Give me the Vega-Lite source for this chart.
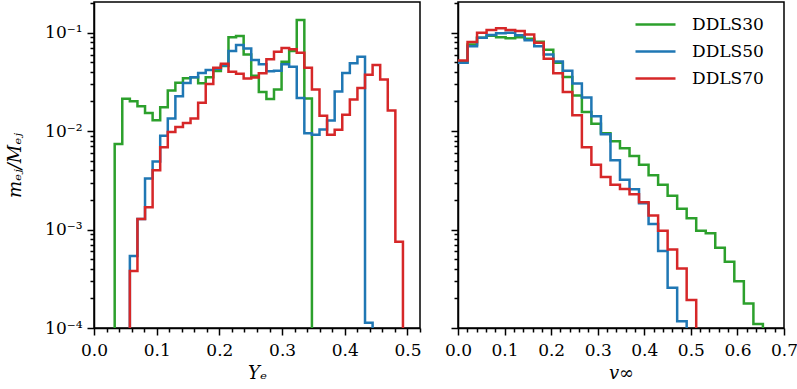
{
"$schema": "https://vega.github.io/schema/vega-lite/v6.json",
"padding": {"left": 5, "right": 0, "top": 1, "bottom": 0},
"autosize": {"type": "pad"},
"config": {
  "font": "DejaVu Serif",
  "view": {"stroke": "black", "strokeWidth": 1.5},
  "axis": {"zindex": 1, "labelFont": "DejaVu Serif", "labelFontSize": 17, "titleFont": "DejaVu Serif", "titleFontSize": 18, "titleFontWeight": "normal", "labelColor": "black", "titleColor": "black", "tickColor": "black", "domainColor": "black", "domainWidth": 1.5, "tickWidth": 1.5, "grid": false, "labelPadding": 7, "titlePadding": 6, "labelFlush": false, "labelOverlap": false},
  "legend": {"title": null, "symbolType": "M-1,0L3,0", "symbolSize": 400, "symbolStrokeWidth": 2.5, "labelFont": "DejaVu Serif", "labelFontSize": 17, "labelColor": "black", "rowPadding": 7, "labelOffset": 35, "padding": 0},
  "line": {"strokeWidth": 2.5, "interpolate": "step-after"}
},
"datasets": {
"ye": [
{"run":"DDLS30","i":0,"ye":0.033,"m":1e-6},
{"run":"DDLS30","i":1,"ye":0.033,"m":0.0074},
{"run":"DDLS30","i":2,"ye":0.0451,"m":0.0213},
{"run":"DDLS30","i":3,"ye":0.0572,"m":0.0201},
{"run":"DDLS30","i":4,"ye":0.0693,"m":0.0179},
{"run":"DDLS30","i":5,"ye":0.0814,"m":0.0153},
{"run":"DDLS30","i":6,"ye":0.0935,"m":0.0129},
{"run":"DDLS30","i":7,"ye":0.1056,"m":0.0175},
{"run":"DDLS30","i":8,"ye":0.1177,"m":0.0259},
{"run":"DDLS30","i":9,"ye":0.1298,"m":0.031},
{"run":"DDLS30","i":10,"ye":0.1419,"m":0.0345},
{"run":"DDLS30","i":11,"ye":0.154,"m":0.0353},
{"run":"DDLS30","i":12,"ye":0.1661,"m":0.0307},
{"run":"DDLS30","i":13,"ye":0.1782,"m":0.0353},
{"run":"DDLS30","i":14,"ye":0.1903,"m":0.0407},
{"run":"DDLS30","i":15,"ye":0.2024,"m":0.0458},
{"run":"DDLS30","i":16,"ye":0.2145,"m":0.09},
{"run":"DDLS30","i":17,"ye":0.2266,"m":0.0925},
{"run":"DDLS30","i":18,"ye":0.2387,"m":0.06},
{"run":"DDLS30","i":19,"ye":0.2508,"m":0.0365},
{"run":"DDLS30","i":20,"ye":0.2629,"m":0.025},
{"run":"DDLS30","i":21,"ye":0.275,"m":0.0212},
{"run":"DDLS30","i":22,"ye":0.2871,"m":0.0265},
{"run":"DDLS30","i":23,"ye":0.2992,"m":0.0506},
{"run":"DDLS30","i":24,"ye":0.3113,"m":0.065},
{"run":"DDLS30","i":25,"ye":0.3234,"m":0.1346},
{"run":"DDLS30","i":26,"ye":0.3355,"m":0.0214},
{"run":"DDLS30","i":27,"ye":0.3476,"m":1e-6},
{"run":"DDLS50","i":0,"ye":0.0572,"m":1e-6},
{"run":"DDLS50","i":1,"ye":0.0572,"m":0.00054},
{"run":"DDLS50","i":2,"ye":0.0693,"m":0.00128},
{"run":"DDLS50","i":3,"ye":0.0814,"m":0.0033},
{"run":"DDLS50","i":4,"ye":0.0935,"m":0.0049},
{"run":"DDLS50","i":5,"ye":0.1056,"m":0.009},
{"run":"DDLS50","i":6,"ye":0.1177,"m":0.0134},
{"run":"DDLS50","i":7,"ye":0.1298,"m":0.0226},
{"run":"DDLS50","i":8,"ye":0.1419,"m":0.0309},
{"run":"DDLS50","i":9,"ye":0.154,"m":0.0353},
{"run":"DDLS50","i":10,"ye":0.1661,"m":0.039},
{"run":"DDLS50","i":11,"ye":0.1782,"m":0.0417},
{"run":"DDLS50","i":12,"ye":0.1903,"m":0.043},
{"run":"DDLS50","i":13,"ye":0.2024,"m":0.0465},
{"run":"DDLS50","i":14,"ye":0.2145,"m":0.065},
{"run":"DDLS50","i":15,"ye":0.2266,"m":0.075},
{"run":"DDLS50","i":16,"ye":0.2387,"m":0.069},
{"run":"DDLS50","i":17,"ye":0.2508,"m":0.0527},
{"run":"DDLS50","i":18,"ye":0.2629,"m":0.0477},
{"run":"DDLS50","i":19,"ye":0.275,"m":0.0405},
{"run":"DDLS50","i":20,"ye":0.2871,"m":0.041},
{"run":"DDLS50","i":21,"ye":0.2992,"m":0.0477},
{"run":"DDLS50","i":22,"ye":0.3113,"m":0.045},
{"run":"DDLS50","i":23,"ye":0.3234,"m":0.0217},
{"run":"DDLS50","i":24,"ye":0.3355,"m":0.0095},
{"run":"DDLS50","i":25,"ye":0.3476,"m":0.0092},
{"run":"DDLS50","i":26,"ye":0.3597,"m":0.0104},
{"run":"DDLS50","i":27,"ye":0.3718,"m":0.0128},
{"run":"DDLS50","i":28,"ye":0.3839,"m":0.0252},
{"run":"DDLS50","i":29,"ye":0.396,"m":0.0389},
{"run":"DDLS50","i":30,"ye":0.4081,"m":0.049},
{"run":"DDLS50","i":31,"ye":0.4202,"m":0.0569},
{"run":"DDLS50","i":32,"ye":0.4323,"m":0.000113},
{"run":"DDLS50","i":33,"ye":0.4444,"m":1e-6},
{"run":"DDLS70","i":0,"ye":0.0572,"m":1e-6},
{"run":"DDLS70","i":1,"ye":0.0572,"m":0.00038},
{"run":"DDLS70","i":2,"ye":0.0693,"m":0.00128},
{"run":"DDLS70","i":3,"ye":0.0814,"m":0.00169},
{"run":"DDLS70","i":4,"ye":0.0935,"m":0.004},
{"run":"DDLS70","i":5,"ye":0.1056,"m":0.00684},
{"run":"DDLS70","i":6,"ye":0.1177,"m":0.0098},
{"run":"DDLS70","i":7,"ye":0.1298,"m":0.011},
{"run":"DDLS70","i":8,"ye":0.1419,"m":0.0121},
{"run":"DDLS70","i":9,"ye":0.154,"m":0.0134},
{"run":"DDLS70","i":10,"ye":0.1661,"m":0.0194},
{"run":"DDLS70","i":11,"ye":0.1782,"m":0.0302},
{"run":"DDLS70","i":12,"ye":0.1903,"m":0.044},
{"run":"DDLS70","i":13,"ye":0.2024,"m":0.0483},
{"run":"DDLS70","i":14,"ye":0.2145,"m":0.04},
{"run":"DDLS70","i":15,"ye":0.2266,"m":0.0382},
{"run":"DDLS70","i":16,"ye":0.2387,"m":0.0343},
{"run":"DDLS70","i":17,"ye":0.2508,"m":0.035},
{"run":"DDLS70","i":18,"ye":0.2629,"m":0.0387},
{"run":"DDLS70","i":19,"ye":0.275,"m":0.0536},
{"run":"DDLS70","i":20,"ye":0.2871,"m":0.064},
{"run":"DDLS70","i":21,"ye":0.2992,"m":0.07},
{"run":"DDLS70","i":22,"ye":0.3113,"m":0.068},
{"run":"DDLS70","i":23,"ye":0.3234,"m":0.0625},
{"run":"DDLS70","i":24,"ye":0.3355,"m":0.044},
{"run":"DDLS70","i":25,"ye":0.3476,"m":0.0264},
{"run":"DDLS70","i":26,"ye":0.3597,"m":0.0143},
{"run":"DDLS70","i":27,"ye":0.3718,"m":0.0092},
{"run":"DDLS70","i":28,"ye":0.3839,"m":0.0103},
{"run":"DDLS70","i":29,"ye":0.396,"m":0.0147},
{"run":"DDLS70","i":30,"ye":0.4081,"m":0.021},
{"run":"DDLS70","i":31,"ye":0.4202,"m":0.0275},
{"run":"DDLS70","i":32,"ye":0.4323,"m":0.0373},
{"run":"DDLS70","i":33,"ye":0.4444,"m":0.0469},
{"run":"DDLS70","i":34,"ye":0.4565,"m":0.0335},
{"run":"DDLS70","i":35,"ye":0.4686,"m":0.0162},
{"run":"DDLS70","i":36,"ye":0.4807,"m":0.00075},
{"run":"DDLS70","i":37,"ye":0.4928,"m":1e-6}
],
"vinf": [
{"run":"DDLS30","i":1,"v":0,"m":0.05},
{"run":"DDLS30","i":2,"v":0.0205,"m":0.076},
{"run":"DDLS30","i":3,"v":0.0409,"m":0.089},
{"run":"DDLS30","i":4,"v":0.0614,"m":0.093},
{"run":"DDLS30","i":5,"v":0.0818,"m":0.09},
{"run":"DDLS30","i":6,"v":0.1023,"m":0.088},
{"run":"DDLS30","i":7,"v":0.1228,"m":0.09},
{"run":"DDLS30","i":8,"v":0.1432,"m":0.087},
{"run":"DDLS30","i":9,"v":0.1637,"m":0.081},
{"run":"DDLS30","i":10,"v":0.1841,"m":0.067},
{"run":"DDLS30","i":11,"v":0.2046,"m":0.0495},
{"run":"DDLS30","i":12,"v":0.2251,"m":0.0355},
{"run":"DDLS30","i":13,"v":0.2455,"m":0.023},
{"run":"DDLS30","i":14,"v":0.266,"m":0.0156},
{"run":"DDLS30","i":15,"v":0.2864,"m":0.0119},
{"run":"DDLS30","i":16,"v":0.3069,"m":0.0095},
{"run":"DDLS30","i":17,"v":0.3274,"m":0.00787},
{"run":"DDLS30","i":18,"v":0.3478,"m":0.0067},
{"run":"DDLS30","i":19,"v":0.3683,"m":0.0056},
{"run":"DDLS30","i":20,"v":0.3887,"m":0.00455},
{"run":"DDLS30","i":21,"v":0.4092,"m":0.00357},
{"run":"DDLS30","i":22,"v":0.4297,"m":0.00285},
{"run":"DDLS30","i":23,"v":0.4501,"m":0.0022},
{"run":"DDLS30","i":24,"v":0.4706,"m":0.00163},
{"run":"DDLS30","i":25,"v":0.491,"m":0.0013},
{"run":"DDLS30","i":26,"v":0.5115,"m":0.00097},
{"run":"DDLS30","i":27,"v":0.532,"m":0.000915},
{"run":"DDLS30","i":28,"v":0.5524,"m":0.000654},
{"run":"DDLS30","i":29,"v":0.5729,"m":0.000471},
{"run":"DDLS30","i":30,"v":0.5933,"m":0.000299},
{"run":"DDLS30","i":31,"v":0.6138,"m":0.000177},
{"run":"DDLS30","i":32,"v":0.6343,"m":0.00011},
{"run":"DDLS30","i":33,"v":0.6547,"m":1e-6},
{"run":"DDLS50","i":1,"v":0,"m":0.0495},
{"run":"DDLS50","i":2,"v":0.0205,"m":0.073},
{"run":"DDLS50","i":3,"v":0.0409,"m":0.089},
{"run":"DDLS50","i":4,"v":0.0614,"m":0.0948},
{"run":"DDLS50","i":5,"v":0.0818,"m":0.0986},
{"run":"DDLS50","i":6,"v":0.1023,"m":0.1},
{"run":"DDLS50","i":7,"v":0.1228,"m":0.094},
{"run":"DDLS50","i":8,"v":0.1432,"m":0.0836},
{"run":"DDLS50","i":9,"v":0.1637,"m":0.073},
{"run":"DDLS50","i":10,"v":0.1841,"m":0.06},
{"run":"DDLS50","i":11,"v":0.2046,"m":0.051},
{"run":"DDLS50","i":12,"v":0.2251,"m":0.041},
{"run":"DDLS50","i":13,"v":0.2455,"m":0.0305},
{"run":"DDLS50","i":14,"v":0.266,"m":0.022},
{"run":"DDLS50","i":15,"v":0.2864,"m":0.0142},
{"run":"DDLS50","i":16,"v":0.3069,"m":0.0093},
{"run":"DDLS50","i":17,"v":0.3274,"m":0.00505},
{"run":"DDLS50","i":18,"v":0.3478,"m":0.0032},
{"run":"DDLS50","i":19,"v":0.3683,"m":0.00257},
{"run":"DDLS50","i":20,"v":0.3887,"m":0.00185},
{"run":"DDLS50","i":21,"v":0.4092,"m":0.00114},
{"run":"DDLS50","i":22,"v":0.4297,"m":0.000605},
{"run":"DDLS50","i":23,"v":0.4501,"m":0.000256},
{"run":"DDLS50","i":24,"v":0.4706,"m":0.000117},
{"run":"DDLS50","i":25,"v":0.491,"m":1e-6},
{"run":"DDLS70","i":1,"v":0,"m":0.0523},
{"run":"DDLS70","i":2,"v":0.0205,"m":0.0804},
{"run":"DDLS70","i":3,"v":0.0409,"m":0.1},
{"run":"DDLS70","i":4,"v":0.0614,"m":0.1066},
{"run":"DDLS70","i":5,"v":0.0818,"m":0.111},
{"run":"DDLS70","i":6,"v":0.1023,"m":0.1066},
{"run":"DDLS70","i":7,"v":0.1228,"m":0.104},
{"run":"DDLS70","i":8,"v":0.1432,"m":0.096},
{"run":"DDLS70","i":9,"v":0.1637,"m":0.079},
{"run":"DDLS70","i":10,"v":0.1841,"m":0.0545},
{"run":"DDLS70","i":11,"v":0.2046,"m":0.0387},
{"run":"DDLS70","i":12,"v":0.2251,"m":0.025},
{"run":"DDLS70","i":13,"v":0.2455,"m":0.0145},
{"run":"DDLS70","i":14,"v":0.266,"m":0.00687},
{"run":"DDLS70","i":15,"v":0.2864,"m":0.00455},
{"run":"DDLS70","i":16,"v":0.3069,"m":0.00342},
{"run":"DDLS70","i":17,"v":0.3274,"m":0.00285},
{"run":"DDLS70","i":18,"v":0.3478,"m":0.00259},
{"run":"DDLS70","i":19,"v":0.3683,"m":0.00228},
{"run":"DDLS70","i":20,"v":0.3887,"m":0.00189},
{"run":"DDLS70","i":21,"v":0.4092,"m":0.00139},
{"run":"DDLS70","i":22,"v":0.4297,"m":0.000975},
{"run":"DDLS70","i":23,"v":0.4501,"m":0.000628},
{"run":"DDLS70","i":24,"v":0.4706,"m":0.000403},
{"run":"DDLS70","i":25,"v":0.491,"m":0.000192},
{"run":"DDLS70","i":26,"v":0.5115,"m":1e-6}
]
},
"spacing": 21,
"resolve": {"scale": {"color": "independent"}, "legend": {"color": "independent"}},
"hconcat": [
{
  "width": 326, "height": 326,
  "data": {"name": "ye"},
  "layer": [
    {
      "mark": {"type": "line", "clip": true},
      "encoding": {
        "x": {"field": "ye", "type": "quantitative", "scale": {"domain": [0, 0.52], "nice": false, "zero": false},
              "axis": {"orient": "bottom", "values": [0, 0.1, 0.2, 0.3, 0.4, 0.5], "format": ".1f", "tickSize": 7, "title": "Yₑ", "titleFontStyle": "italic"}},
        "y": {"field": "m", "type": "quantitative", "scale": {"type": "log", "domain": [0.0001, 0.205], "nice": false},
              "axis": {"orient": "left", "values": [0.0001, 0.001, 0.01, 0.1], "tickSize": 7, "labelPadding": 5, "titlePadding": 20,
                       "labelExpr": "datum.value > 0.05 ? '10⁻¹' : datum.value > 0.005 ? '10⁻²' : datum.value > 0.0005 ? '10⁻³' : '10⁻⁴'",
                       "title": "mₑⱼ/Mₑⱼ", "titleFontStyle": "italic"}},
        "color": {"field": "run", "type": "nominal", "scale": {"domain": ["DDLS30", "DDLS50", "DDLS70"], "range": ["#2ca02c", "#1f77b4", "#d62728"]}, "legend": null},
        "order": {"field": "i", "type": "quantitative"}
      }
    },
    {
      "mark": {"type": "point", "opacity": 0, "clip": true},
      "encoding": {
        "x": {"field": "ye", "type": "quantitative", "scale": {"domain": [0, 0.52], "nice": false, "zero": false},
              "axis": {"orient": "bottom", "values": [0.02, 0.04, 0.06, 0.08, 0.12, 0.14, 0.16, 0.18, 0.22, 0.24, 0.26, 0.28, 0.32, 0.34, 0.36, 0.38, 0.42, 0.44, 0.46, 0.48, 0.52], "tickSize": 4, "labels": false, "domain": false, "title": null}},
        "y": {"field": "m", "type": "quantitative", "scale": {"type": "log", "domain": [0.0001, 0.205], "nice": false},
              "axis": {"orient": "left", "values": [0.0002, 0.0003, 0.0004, 0.0005, 0.0006, 0.0007, 0.0008, 0.0009, 0.002, 0.003, 0.004, 0.005, 0.006, 0.007, 0.008, 0.009, 0.02, 0.03, 0.04, 0.05, 0.06, 0.07, 0.08, 0.09, 0.2], "tickSize": 4, "labels": false, "domain": false, "title": null}}
      }
    }
  ],
  "resolve": {"axis": {"x": "independent", "y": "independent"}}
},
{
  "width": 326, "height": 326,
  "data": {"name": "vinf"},
  "layer": [
    {
      "mark": {"type": "line", "clip": true},
      "encoding": {
        "x": {"field": "v", "type": "quantitative", "scale": {"domain": [0, 0.7], "nice": false, "zero": false},
              "axis": {"orient": "bottom", "values": [0, 0.1, 0.2, 0.3, 0.4, 0.5, 0.6, 0.7], "format": ".1f", "tickSize": 7, "title": "v∞", "titleFontStyle": "italic"}},
        "y": {"field": "m", "type": "quantitative", "scale": {"type": "log", "domain": [0.0001, 0.205], "nice": false},
              "axis": {"orient": "left", "values": [0.0001, 0.001, 0.01, 0.1], "tickSize": 7, "labels": false, "title": null}},
        "color": {"field": "run", "type": "nominal", "scale": {"domain": ["DDLS30", "DDLS50", "DDLS70"], "range": ["#2ca02c", "#1f77b4", "#d62728"]}, "legend": {"orient": "none", "legendX": 176, "legendY": 11}},
        "order": {"field": "i", "type": "quantitative"}
      }
    },
    {
      "mark": {"type": "point", "opacity": 0, "clip": true},
      "encoding": {
        "x": {"field": "v", "type": "quantitative", "scale": {"domain": [0, 0.7], "nice": false, "zero": false},
              "axis": {"orient": "bottom", "values": [0.02, 0.04, 0.06, 0.08, 0.12, 0.14, 0.16, 0.18, 0.22, 0.24, 0.26, 0.28, 0.32, 0.34, 0.36, 0.38, 0.42, 0.44, 0.46, 0.48, 0.52, 0.54, 0.56, 0.58, 0.62, 0.64, 0.66, 0.68], "tickSize": 4, "labels": false, "domain": false, "title": null}},
        "y": {"field": "m", "type": "quantitative", "scale": {"type": "log", "domain": [0.0001, 0.205], "nice": false},
              "axis": {"orient": "left", "values": [0.0002, 0.0003, 0.0004, 0.0005, 0.0006, 0.0007, 0.0008, 0.0009, 0.002, 0.003, 0.004, 0.005, 0.006, 0.007, 0.008, 0.009, 0.02, 0.03, 0.04, 0.05, 0.06, 0.07, 0.08, 0.09, 0.2], "tickSize": 4, "labels": false, "domain": false, "title": null}}
      }
    }
  ],
  "resolve": {"axis": {"x": "independent", "y": "independent"}}
}
]
}
